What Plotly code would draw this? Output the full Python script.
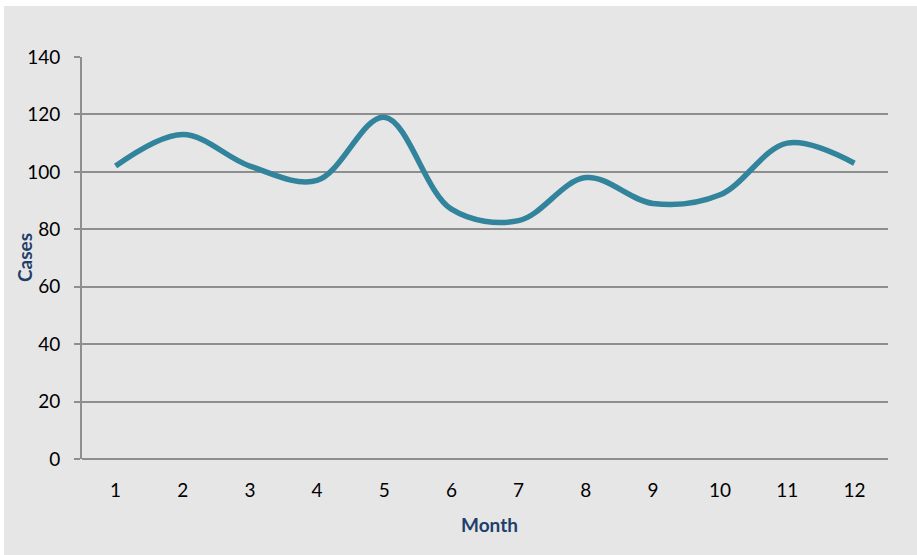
import plotly.graph_objects as go

months = [1, 2, 3, 4, 5, 6, 7, 8, 9, 10, 11, 12]
cases = [102, 113, 102, 97, 119, 87, 83, 98, 89, 92, 110, 103]
y_ticks = [0, 20, 40, 60, 80, 100, 120, 140]

W, H = 917, 555
L, R, T, B = 82, 29, 57, 96
pw, ph = W - L - R, H - T - B


def px(x):
    return (x - L) / pw


def py(y):
    return (H - B - y) / ph


fig = go.Figure()
fig.add_trace(go.Scatter(
    x=months, y=cases, mode="lines",
    line=dict(color="#31849B", width=5.5, shape="spline", smoothing=1.0),
    hoverinfo="x+y", showlegend=False,
))

bg = "#e6e6e6"
title_color = "#1F3F6B"
fig.update_layout(
    width=W, height=H,
    margin=dict(l=L, r=R, t=T, b=B, pad=0, autoexpand=False),
    paper_bgcolor="white",
    plot_bgcolor=bg,
    font=dict(family="Lato, 'Open Sans', sans-serif", size=19, color="black"),
    shapes=[dict(type="rect", xref="paper", yref="paper", layer="below",
                 x0=px(4), x1=px(W), y0=py(H), y1=py(6),
                 fillcolor=bg, line=dict(width=0))],
    annotations=[
        dict(text="<b>Month</b>", xref="paper", yref="paper", x=px(489), y=py(524),
             xanchor="center", yanchor="middle", showarrow=False,
             font=dict(size=19, color=title_color)),
        dict(text="<b>Cases</b>", xref="paper", yref="paper", x=px(24), y=py(258),
             xanchor="center", yanchor="middle", showarrow=False, textangle=-90,
             font=dict(size=19, color=title_color)),
    ],
    xaxis=dict(
        range=[0.5, 12.5], tickvals=months, ticktext=[str(m) for m in months],
        showgrid=False, zeroline=False, showline=False, ticks="",
        ticklabelstandoff=18, automargin=False,
    ),
    yaxis=dict(
        range=[0, 140], tickvals=y_ticks, ticktext=[str(v) for v in y_ticks],
        showgrid=True, gridcolor="#8e8e8e", gridwidth=1.5,
        zeroline=True, zerolinecolor="#8e8e8e", zerolinewidth=2,
        showline=True, linecolor="#8e8e8e", linewidth=2,
        ticks="outside", ticklen=6, tickcolor="#8e8e8e", tickwidth=1.5,
        ticklabelstandoff=10, automargin=False,
    ),
)

fig.write_html("out.html", config={"displayModeBar": False},
               post_script="document.body.style.margin='0';")
